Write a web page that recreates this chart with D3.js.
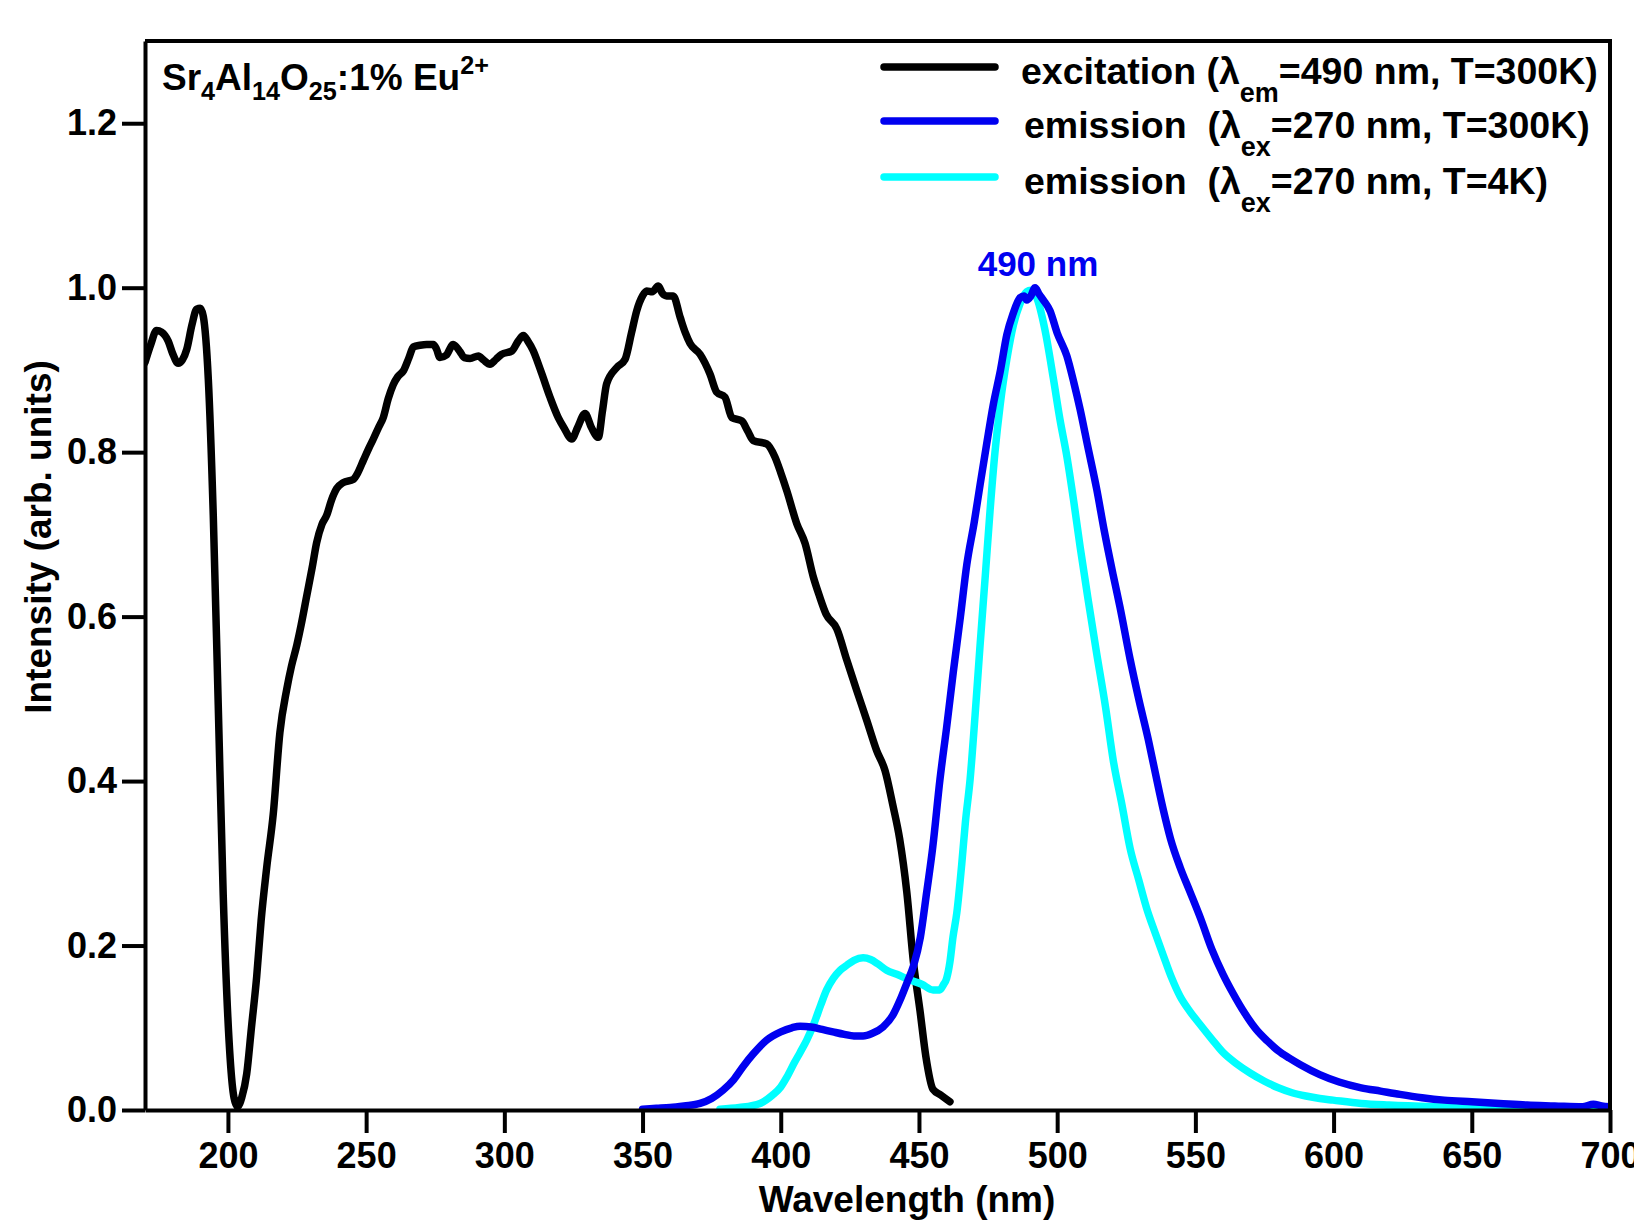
<!DOCTYPE html>
<html>
<head>
<meta charset="utf-8">
<script src="https://cdn.jsdelivr.net/npm/d3@7"></script>
<style>
  body { margin: 0; background: #fff; }
  text { font-family: "Liberation Sans", Arial, sans-serif; font-weight: bold; fill: #000; }
</style>
</head>
<body>
<svg id="chart" width="1634" height="1222"></svg>
<script>
// excitation spectrum (lambda_em = 490 nm, 300 K)
var excWl = [170,172,174.2,176,178.4,180,182,183.5,185.1,187,188.7,190,191.1,192.9,194.7,196.5,198.3,200.8,202.2,203.5,205,206.8,208.5,210.4,212,214,216.4,218.8,221.3,223,224.9,226.5,228.5,230.5,232.1,234,235.7,237.5,239.4,241.7,245.4,247,249,251,252.6,254.5,256.2,258,259.8,261.5,263.5,265.5,267.1,269.5,271.9,274.3,275.5,276.7,279,281.5,284,285.5,287.6,290.6,292.5,294.8,297,299,302.7,305,306.9,308.5,310.5,312,313.6,316.5,319.5,321.5,324.4,326.5,329.2,331.5,334,335.5,337,340.7,343.7,346,347.9,350,351.5,353.5,355.7,357.2,358.7,361.1,363.6,365.5,367.2,370.8,374.4,376.8,379.8,382.3,385.9,388,390.1,394.9,397.9,400,402.2,405.8,408.8,411.8,414,416.4,420.3,423.9,427.5,431.1,434.7,437.7,440.6,443,445.6,448,450.4,452.5,455.1,458,461.2];
var excVal = [0.909,0.93,0.948,0.946,0.935,0.92,0.908,0.912,0.925,0.955,0.974,0.975,0.965,0.889,0.723,0.492,0.261,0.063,0.015,0.004,0.015,0.044,0.1,0.162,0.23,0.294,0.36,0.459,0.512,0.54,0.565,0.59,0.625,0.66,0.69,0.712,0.723,0.742,0.756,0.763,0.767,0.775,0.79,0.805,0.816,0.83,0.842,0.865,0.882,0.892,0.899,0.915,0.928,0.93,0.931,0.931,0.925,0.915,0.918,0.931,0.922,0.915,0.914,0.917,0.912,0.907,0.913,0.919,0.923,0.935,0.942,0.935,0.923,0.91,0.895,0.867,0.842,0.83,0.816,0.83,0.847,0.83,0.818,0.85,0.883,0.903,0.913,0.945,0.972,0.99,0.996,0.995,1.002,0.993,0.99,0.99,0.964,0.945,0.932,0.919,0.895,0.873,0.867,0.842,0.838,0.826,0.814,0.81,0.794,0.775,0.753,0.713,0.689,0.648,0.625,0.603,0.585,0.547,0.51,0.474,0.437,0.413,0.37,0.33,0.265,0.18,0.12,0.065,0.025,0.018,0.01];

// emission, lambda_ex = 270 nm, 300 K
var em300Wl = [350,355,360,365,370.8,375,379.1,383,386.4,390,394.9,400,404,407,411,415,418.9,423,426.5,429.8,433,437,440.5,443.2,445.7,448,450.5,452.8,455,457.6,460,462.4,465,467.3,470,472.1,474.5,476.9,479.5,481.8,484,486.6,488,489,490.5,492,493.5,495,497.4,500,503.5,506,508.3,511,514.3,517,520.3,522.7,526.4,529.5,533,535.5,538.4,541,544.5,548.1,552,556,560,563.6,568,572,576,580,584,588,595,602,610,617,624,632,640,650,660,670,680,690,694,697,700];
var em300Val = [0.001,0.002,0.003,0.005,0.008,0.014,0.024,0.037,0.053,0.068,0.085,0.095,0.1,0.102,0.101,0.098,0.095,0.092,0.09,0.09,0.093,0.101,0.115,0.134,0.155,0.175,0.21,0.265,0.32,0.402,0.465,0.532,0.6,0.663,0.715,0.76,0.81,0.858,0.9,0.943,0.968,0.988,0.99,0.985,0.99,1.0,0.992,0.985,0.972,0.945,0.917,0.885,0.852,0.808,0.755,0.705,0.65,0.612,0.548,0.5,0.45,0.41,0.365,0.33,0.295,0.265,0.232,0.195,0.165,0.142,0.117,0.098,0.084,0.072,0.063,0.055,0.043,0.034,0.027,0.023,0.019,0.015,0.012,0.01,0.008,0.006,0.005,0.004,0.007,0.005,0.004];

// emission, lambda_ex = 270 nm, 4 K
var em4Wl = [378,385,392.5,397,400,402.2,405,407,409.4,412,414.5,416.6,419,421.5,423.9,426.5,429.8,432.5,435,438.3,442,446.8,451,455.1,457.5,458.8,460,461.2,462.3,463.7,465.5,466.8,468.5,470.3,472.1,474,475.7,477.5,479.4,481.8,484.2,486.5,489,490.5,492.6,495.5,498.6,501,503.5,506,508.3,511,514.3,517.5,520.3,523.5,526.4,529.5,532.4,535.5,538.4,541.5,544.5,548,551.7,556,560,565,569.8,575,580,585,590,595,599.8,610,620,636,650,670,700];
var em4Val = [0.001,0.003,0.008,0.018,0.028,0.04,0.058,0.07,0.085,0.105,0.128,0.146,0.16,0.17,0.176,0.182,0.185,0.183,0.178,0.17,0.165,0.158,0.153,0.146,0.146,0.152,0.16,0.18,0.21,0.24,0.3,0.35,0.402,0.48,0.565,0.65,0.728,0.8,0.858,0.913,0.955,0.98,0.995,0.997,0.988,0.95,0.89,0.84,0.795,0.74,0.685,0.625,0.555,0.49,0.425,0.37,0.318,0.28,0.245,0.215,0.188,0.16,0.138,0.12,0.104,0.086,0.07,0.056,0.045,0.035,0.027,0.021,0.017,0.014,0.012,0.008,0.006,0.004,0.003,0.002,0.001];

var xMajor = [200,250,300,350,400,450,500,550,600,650,700];
var xMinor = d3.range(170, 701, 10);
var yMajor = [0,0.2,0.4,0.6,0.8,1.0,1.2];
var yMinor = [0.1,0.3,0.5,0.7,0.9,1.1];

var svg = d3.select("#chart");
svg.append("rect").attr("width",1634).attr("height",1222).attr("fill","#fff");

var x = d3.scaleLinear().domain([170,700]).range([145,1610]);
var y = d3.scaleLinear().domain([0,1.3]).range([1110,41]);

function zip(a, b) { return a.map(function(d, i) { return [d, b[i]]; }); }

var line = d3.line()
    .x(function(d) { return x(d[0]); })
    .y(function(d) { return y(d[1]); })
    .curve(d3.curveMonotoneX);

var series = [
  {data: zip(excWl, excVal), color: "#000000"},
  {data: zip(em4Wl, em4Val), color: "#00ffff"},
  {data: zip(em300Wl, em300Val), color: "#0000f0"}
];

svg.append("clipPath").attr("id","clip").append("rect")
    .attr("x",145).attr("y",41).attr("width",1465).attr("height",1069);

svg.append("g").attr("clip-path","url(#clip)")
  .selectAll("path").data(series).enter().append("path")
    .attr("d", function(d) { return line(d.data); })
    .attr("fill","none")
    .attr("stroke", function(d) { return d.color; })
    .attr("stroke-width", 7.5)
    .attr("stroke-linejoin","round")
    .attr("stroke-linecap","round");

// frame top + right
svg.append("path")
    .attr("d", "M145,41H1610V1110")
    .attr("fill","none").attr("stroke","#000").attr("stroke-width",4);

// axes
var gx = svg.append("g").attr("transform","translate(0,1110)");
gx.call(d3.axisBottom(x).tickValues(xMinor).tickSize(13).tickSizeOuter(0).tickFormat(""));
gx.call(d3.axisBottom(x).tickValues(xMajor).tickSize(23).tickSizeOuter(0).tickPadding(9).tickFormat(d3.format("d")));

var gy = svg.append("g").attr("transform","translate(145,0)");
gy.call(d3.axisLeft(y).tickValues(yMinor).tickSize(13).tickSizeOuter(0).tickFormat(""));
gy.call(d3.axisLeft(y).tickValues(yMajor).tickSize(23).tickSizeOuter(0).tickPadding(5).tickFormat(d3.format(".1f")));

svg.selectAll(".domain").attr("stroke","#000").attr("stroke-width",4);
svg.selectAll(".tick line").attr("stroke","#000").attr("stroke-width",4);
svg.selectAll(".tick text").style("font-size","36px").style("font-family","Liberation Sans, Arial, sans-serif").style("font-weight","bold").attr("fill","#000");

svg.append("text").attr("x",907).attr("y",1212).attr("text-anchor","middle")
    .style("font-size","37px").text("Wavelength (nm)");

svg.append("text").attr("transform","translate(51,537) rotate(-90)").attr("text-anchor","middle")
    .style("font-size","37px").text("Intensity (arb. units)");

// rich text helper: parts with sub / sup
function rich(x0, y0, size, parts, subShift, subScale) {
  var t = svg.append("text").attr("x",x0).attr("y",y0).style("font-size",size+"px").style("white-space","pre");
  var cur = 0;
  parts.forEach(function(p) {
    var target = p[1] === "sub" ? size*subShift : p[1] === "sup" ? -size*0.42 : 0;
    var fs = p[1] ? size*subScale : size;
    t.append("tspan").attr("dy", target - cur).style("font-size", fs+"px").text(p[0]);
    cur = target;
  });
  return t;
}

rich(162, 90, 37, [["Sr"],["4","sub"],["Al"],["14","sub"],["O"],["25","sub"],[":1% Eu"],["2+","sup"]], 0.28, 0.68);

var legendItems = [
  {color:"#000000", y:67, label:[["excitation (\u03bb"],["em","sub"],["=490 nm, T=300K)"]], tx:1021},
  {color:"#0000f0", y:121, label:[["emission  (\u03bb"],["ex","sub"],["=270 nm, T=300K)"]], tx:1024},
  {color:"#00ffff", y:177, label:[["emission  (\u03bb"],["ex","sub"],["=270 nm, T=4K)"]], tx:1024}
];
legendItems.forEach(function(d) {
  svg.append("line").attr("x1",884).attr("x2",995).attr("y1",d.y).attr("y2",d.y)
    .attr("stroke",d.color).attr("stroke-width",7.5).attr("stroke-linecap","round");
  rich(d.tx, d.y + 17, 37.5, d.label, 0.48, 0.72);
});

svg.append("text").attr("x",1038).attr("y",276).attr("text-anchor","middle")
    .style("font-size","35px").style("fill","#0000f0").text("490 nm");
</script>
</body>
</html>
